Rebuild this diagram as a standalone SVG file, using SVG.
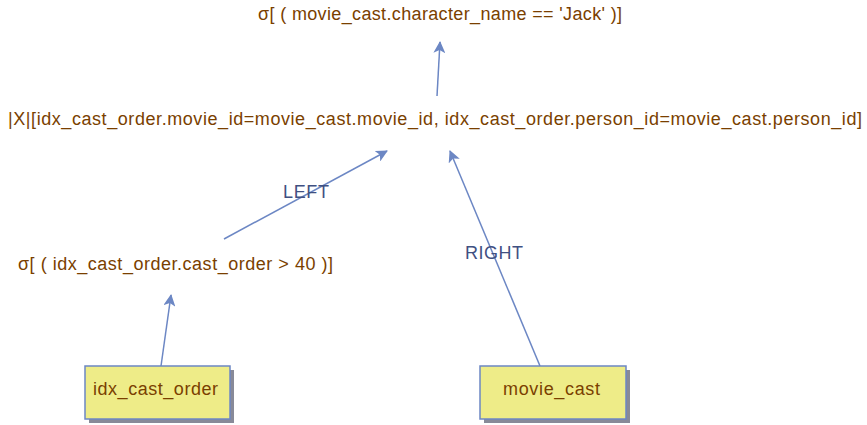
<svg xmlns="http://www.w3.org/2000/svg" width="867" height="425" viewBox="0 0 867 425">
<defs>
<style>
.t{font-family:"Liberation Sans",Arial,sans-serif;font-size:18px;fill:#7a3f00}
.l{font-family:"Liberation Sans",Arial,sans-serif;font-size:18px;fill:#3f5082}
.e{stroke:#6c87c4;stroke-width:1.5;fill:none}
.box{fill:#eeec88;stroke:#6c87c4;stroke-width:1.5}
.sh{fill:#888a98}
</style>
<marker id="a" viewBox="0 0 12 12" refX="11" refY="6" markerWidth="12" markerHeight="12" markerUnits="userSpaceOnUse" orient="auto">
<path d="M0,0 L12,6 L0,12 L3,6 Z" fill="#6c87c4"/>
</marker>
</defs>
<g id="connectors">
<line class="e" x1="437" y1="96" x2="440" y2="42" marker-end="url(#a)"/>
<line class="e" x1="224" y1="239" x2="387" y2="151" marker-end="url(#a)"/>
<line class="e" x1="540" y1="366" x2="450" y2="151" marker-end="url(#a)"/>
<line class="e" x1="161" y1="366" x2="171" y2="295" marker-end="url(#a)"/>
<text class="l" x="283" y="198" textLength="46" lengthAdjust="spacing">LEFT</text>
<text class="l" x="465" y="259" textLength="58" lengthAdjust="spacing">RIGHT</text>
</g>
<g id="n_sel_top"><text class="t" x="258" y="20" textLength="364" lengthAdjust="spacing">σ[ ( movie_cast.character_name == 'Jack' )]</text></g>
<g id="n_join"><text class="t" x="8" y="125" textLength="854" lengthAdjust="spacing">|X|[idx_cast_order.movie_id=movie_cast.movie_id, idx_cast_order.person_id=movie_cast.person_id]</text></g>
<g id="n_sel_left"><text class="t" x="18" y="270" textLength="315" lengthAdjust="spacing">σ[ ( idx_cast_order.cast_order &gt; 40 )]</text></g>
<g id="n_idx">
<rect class="sh" x="89" y="370" width="145" height="53"/>
<rect class="box" x="85" y="366" width="145" height="53"/>
<text class="t" x="93" y="395" textLength="125" lengthAdjust="spacing">idx_cast_order</text>
</g>
<g id="n_mc">
<rect class="sh" x="484" y="370" width="146" height="53"/>
<rect class="box" x="480" y="366" width="146" height="53"/>
<text class="t" x="503" y="395" textLength="97" lengthAdjust="spacing">movie_cast</text>
</g>
</svg>
